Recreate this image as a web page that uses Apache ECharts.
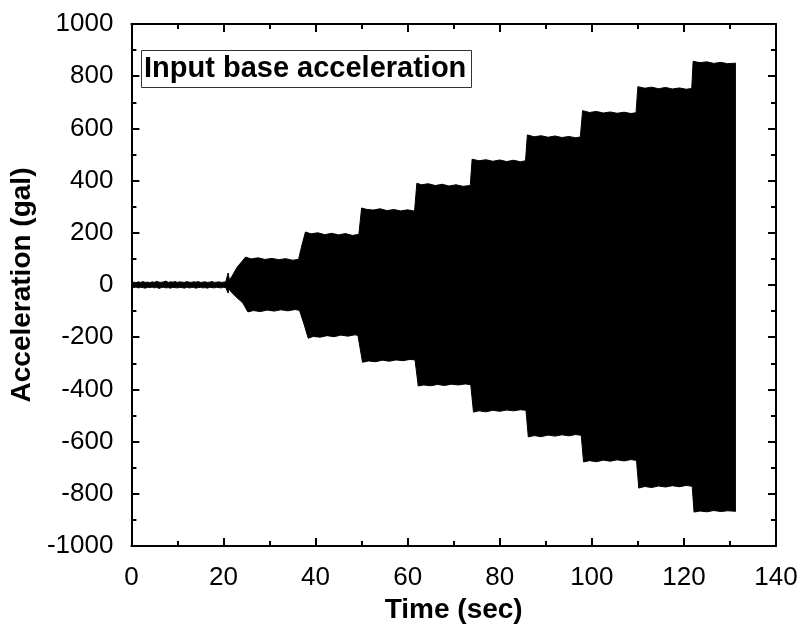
<!DOCTYPE html>
<html>
<head>
<meta charset="utf-8">
<script src="https://cdn.jsdelivr.net/npm/echarts@6/dist/echarts.min.js"></script>
<style>html,body{margin:0;padding:0;background:#fff}#c{width:803px;height:632px}</style>
</head>
<body>
<div id="c"></div>
<script>
// Envelope of the input base acceleration signal
var upperTime = [0,0.5,1,1.5,2,2.5,3,3.5,4,4.5,5,5.5,6,6.5,7,7.5,8,8.5,9,9.5,10,10.5,11,11.5,12,12.5,13,13.5,14,14.5,15,15.5,16,16.5,17,17.5,18,18.5,19,19.5,20,20.5,21,21.3,21.6,22,23,24,24.8,26,27.5,29,30.5,32,33.5,35,36.3,37,37.8,39,40.5,42,43.5,45,46.5,48,49.4,50,51,52.5,54,55.5,57,58.5,60,61.5,62,63,64.5,66,67.5,69,70.5,72,73.6,74,75.5,77,78.5,80,81.5,83,84.5,85.6,86,87.5,89,90.5,92,93.5,95,96.5,97.5,98,99.5,101,102.5,104,105.5,107,108.5,109.6,110,111.5,113,114.5,116,117.5,119,120.5,121.7,122,123.5,125,126.5,128,129.5,131.3];
var upperAcc = [10,11,9,12,10,13,10,11,9,12,10,14,11,10,12,15,10,12,11,13,10,12,11,10,13,11,10,12,11,13,10,11,12,10,11,13,10,11,12,10,11,12,46,18,25,38,69,90,107,100,104,98,102,97,101,95,98,150,203,196,200,193,198,192,197,190,194,295,290,287,292,285,289,284,288,283,390,384,388,381,386,379,384,378,381,482,476,480,474,479,473,478,472,476,575,568,572,566,571,565,569,564,567,668,661,665,659,663,658,662,657,660,760,754,758,752,757,751,755,750,753,857,852,855,849,853,848,850];
var lowerTime = [0,0.5,1,1.5,2,2.5,3,3.5,4,4.5,5,5.5,6,6.5,7,7.5,8,8.5,9,9.5,10,10.5,11,11.5,12,12.5,13,13.5,14,14.5,15,15.5,16,16.5,17,17.5,18,18.5,19,19.5,20,20.5,21,21.3,21.6,22,22.7,24.2,25.3,26.5,28,29.5,31,32.5,34,35.5,36.5,37.5,38.4,39.5,41,42.5,44,45.5,47,48.5,49.2,50.2,51.5,53,54.5,56,57.5,59,60.5,61.6,62.3,63.5,65,66.5,68,69.5,71,72.5,73.7,74.3,75.5,77,78.5,80,81.5,83,84.5,85.7,86.2,87.5,89,90.5,92,93.5,95,96.5,97.7,98.2,99.5,101,102.5,104,105.5,107,108.5,109.7,110.2,111.5,113,114.5,116,117.5,119,120.5,121.8,122.2,123.5,125,126.5,128,129.5,131.3];
var lowerAcc = [-9,-10,-8,-11,-9,-10,-12,-9,-10,-8,-11,-9,-13,-10,-9,-11,-10,-12,-9,-10,-11,-9,-10,-12,-9,-11,-10,-9,-12,-10,-9,-11,-10,-12,-9,-10,-11,-9,-10,-11,-9,-10,-31,-14,-25,-32,-45,-69,-103,-98,-102,-96,-100,-95,-99,-94,-97,-150,-204,-197,-200,-194,-198,-192,-196,-191,-193,-296,-291,-294,-288,-292,-287,-290,-285,-287,-387,-383,-386,-381,-385,-380,-383,-379,-382,-487,-482,-486,-480,-484,-479,-482,-478,-480,-582,-577,-581,-575,-579,-574,-578,-573,-576,-678,-673,-677,-671,-675,-670,-674,-669,-672,-778,-772,-776,-770,-774,-769,-773,-768,-771,-870,-866,-869,-864,-868,-865,-867];
var xTicks = {min: 0, max: 140, interval: 20};
var yTicks = {min: -1000, max: 1000, interval: 200};
var titleText = 'Input base acceleration';
var xName = 'Time (sec)';
var yName = 'Acceleration (gal)';

function zip(a, b) { return a.map(function (v, i) { return [v, b[i]]; }); }

var FONT = '"Liberation Sans", Arial, sans-serif';
var lineCol = '#000';
function plain(v) { return String(v); }
function axisBase(extra) {
  var o = {
    type: 'value',
    axisLine: {show: true, onZero: false, lineStyle: {color: lineCol, width: 2}},
    axisTick: {show: true, inside: true, length: 8, lineStyle: {color: lineCol, width: 2}},
    minorTick: {show: true, splitNumber: 2, length: 5, lineStyle: {color: lineCol, width: 2}},
    splitLine: {show: false},
    axisLabel: {show: true, color: '#000', fontSize: 26, fontFamily: FONT, formatter: plain}
  };
  for (var k in extra) o[k] = extra[k];
  return o;
}

var chart = echarts.init(document.getElementById('c'), null, {renderer: 'canvas'});
chart.setOption({
  animation: false,
  backgroundColor: '#fff',
  title: {
    text: titleText,
    left: 141, top: 50,
    padding: [3, 5, 3, 3],
    borderColor: '#333', borderWidth: 1,
    textStyle: {fontFamily: FONT, fontSize: 29, fontWeight: 'bold', color: '#000', lineHeight: 32}
  },
  grid: {left: 128, right: 27, top: 24, bottom: 86},
  xAxis: [
    axisBase({min: xTicks.min, max: xTicks.max, interval: xTicks.interval, position: 'bottom',
      name: xName, nameLocation: 'middle', nameGap: 45,
      nameTextStyle: {fontFamily: FONT, fontSize: 28, fontWeight: 'bold', color: '#000'},
      axisLabel: {show: true, color: '#000', fontSize: 26, fontFamily: FONT, margin: 19, formatter: plain}}),
    axisBase({min: xTicks.min, max: xTicks.max, interval: xTicks.interval, position: 'top',
      axisLabel: {show: false}})
  ],
  yAxis: [
    axisBase({min: yTicks.min, max: yTicks.max, interval: yTicks.interval, position: 'left',
      name: yName, nameLocation: 'middle', nameGap: 75, nameRotate: 90,
      nameTextStyle: {fontFamily: FONT, fontSize: 28, fontWeight: 'bold', color: '#000'},
      axisLabel: {show: true, color: '#000', fontSize: 26, fontFamily: FONT, margin: 18, formatter: plain}}),
    axisBase({min: yTicks.min, max: yTicks.max, interval: yTicks.interval, position: 'right',
      axisLabel: {show: false}})
  ],
  series: [
    {type: 'line', data: zip(upperTime, upperAcc), showSymbol: false, symbol: 'none',
      lineStyle: {color: '#000', width: 1}, areaStyle: {color: '#000', opacity: 1}, z: 1},
    {type: 'line', data: zip(lowerTime, lowerAcc), showSymbol: false, symbol: 'none',
      lineStyle: {color: '#000', width: 1}, areaStyle: {color: '#000', opacity: 1}, z: 1}
  ]
});
</script>
</body>
</html>
